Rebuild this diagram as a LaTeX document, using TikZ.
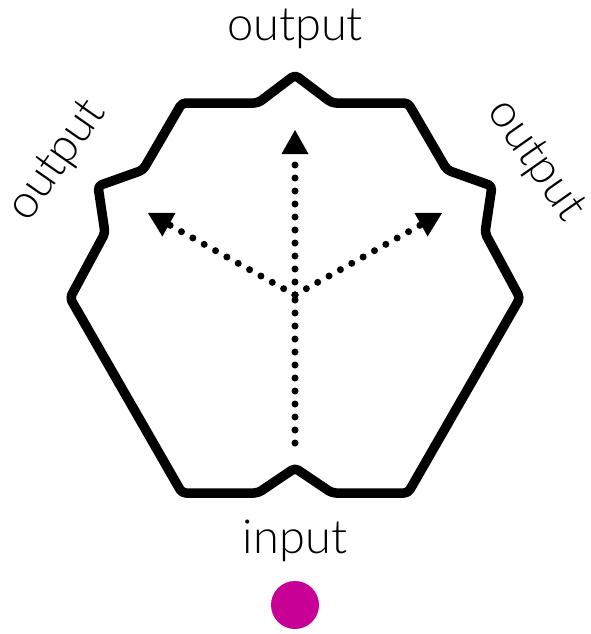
\documentclass[tikz,border=0pt]{standalone}
\usepackage{fontspec}
\setmainfont{Lato Light}
\usetikzlibrary{arrows.meta}
\definecolor{dotmag}{RGB}{200,0,150}
\tikzset{
  outline/.style={line width=9.5pt, line join=round, rounded corners=4pt},
  dotline/.style={line width=7pt, line cap=round, dash pattern=on 0pt off 13pt,
    -{Triangle[width=27pt,length=24pt,line width=0pt]}},
  lbl/.style={font=\fontsize{47}{50}\selectfont, inner sep=0pt}
}
\begin{document}
\begin{tikzpicture}[x=1pt,y=-1pt]
\useasboundingbox (0,0) rectangle (591,634);
\draw[outline] (182,103) -- (258,103) -- (295,75) -- (332,103) -- (408,103)
  -- (447,170) -- (492,186) -- (485,233) -- (520,298) -- (408,493)
  -- (332,493) -- (295,468) -- (258,493) -- (182,493)
  -- (70,298) -- (105,233) -- (98,186) -- (143,170) -- cycle;
\coordinate (c) at (295,295);
\coordinate (bot) at (295,443);
\coordinate (tu) at (295,130);
\coordinate (tl) at (148,213);
\coordinate (tr) at (442,213);
\draw[line width=7pt, line cap=round, dash pattern=on 0pt off 13pt] (bot) -- (c);
\draw[dotline] (c) -- (tu);
\draw[dotline] (c) -- (tl);
\draw[dotline] (c) -- (tr);
\node[lbl] (otop) at (295,29) {output};
\node[lbl, rotate=55] (oleft) at (58,161) {output};
\node[lbl, rotate=-55] (oright) at (535,161) {output};
\node[lbl] (inp) at (295,541) {input};
\node[circle, fill=dotmag, minimum size=48pt, inner sep=0pt] (dot) at (295,605) {};
\end{tikzpicture}
\end{document}
